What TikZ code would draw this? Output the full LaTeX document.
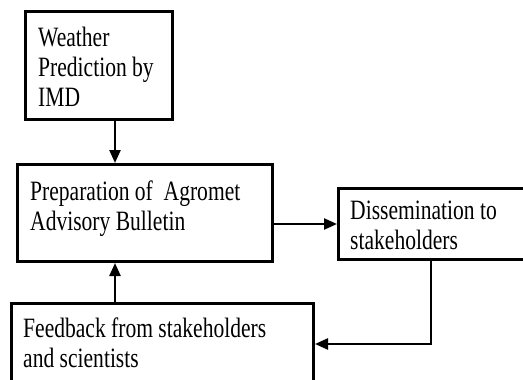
\documentclass[tikz,border=0pt]{standalone}
\usepackage{fontspec}
\setmainfont{Liberation Serif}[FakeStretch=0.77]
\usetikzlibrary{arrows.meta}
\begin{document}
\begin{tikzpicture}[x=1pt,y=-1pt,
  box/.style={draw,line width=3pt,rectangle,inner sep=0pt,anchor=north west},
  txt/.style={anchor=north west,inner sep=0pt,align=left,font=\fontsize{28}{30}\selectfont},
  conn/.style={line width=2.4pt,-{Triangle[length=13pt,width=11pt]}}]
\useasboundingbox (0,0) rectangle (523,380);
\node[box,minimum width=147pt,minimum height=108pt] (w) at (24,10) {};
\node[box,minimum width=255pt,minimum height=97pt] (p) at (16,163) {};
\node[box,minimum width=200pt,minimum height=71pt] (d) at (337,187) {};
\node[box,minimum width=302pt,minimum height=100pt] (f) at (10,302) {};
\node[txt] (wt) at (38,27) {Weather\\Prediction by\\IMD};
\node[txt] (pt) at (30,181) {Preparation of\ \ Agromet\\Advisory Bulletin};
\node[txt] (dt) at (350,201) {Dissemination to\\stakeholders};
\node[txt] (ft) at (23,318) {Feedback from stakeholders\\and scientists};
\coordinate (ax) at (115,0);
\coordinate (ay) at (0,224);
\coordinate (bx) at (431,344);
\draw[conn] (w.south -| ax) -- (p.north -| ax);
\draw[conn] (p.east |- ay) -- (d.west |- ay);
\draw[conn] (d.south -| bx) |- (f.east |- bx);
\draw[conn] (f.north -| ax) -- (p.south -| ax);
\end{tikzpicture}
\end{document}
